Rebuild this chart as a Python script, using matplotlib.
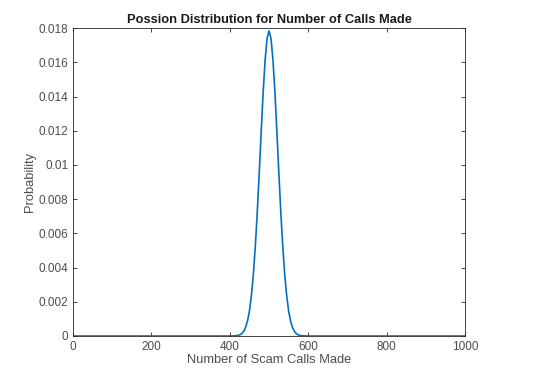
import matplotlib

matplotlib.use("Agg")
import matplotlib.pyplot as plt  # noqa: E402

# values (number of calls -> probability)
calls = [0, 400, 410, 420, 425, 430, 435, 440, 445, 450, 455, 460, 465, 470, 475,
         480, 485, 490, 495, 500, 505, 510, 515, 520, 525, 530, 535, 540, 545,
         550, 555, 560, 565, 570, 575, 580, 590, 600, 1000]
prob = [0.0, 0.0, 0.000005, 0.00003, 0.00006, 0.00013, 0.00026, 0.00049, 0.00087,
        0.00146, 0.00236, 0.00360, 0.00524, 0.00725, 0.00955, 0.01196, 0.01425,
        0.01614, 0.01740, 0.01784, 0.01740, 0.01614, 0.01425, 0.01196, 0.00955,
        0.00725, 0.00524, 0.00360, 0.00236, 0.00146, 0.00087, 0.00049, 0.00026,
        0.00013, 0.00006, 0.00003, 0.000005, 0.0, 0.0]
x_ticks = [0, 200, 400, 600, 800, 1000]
y_ticks = [0, 0.002, 0.004, 0.006, 0.008, 0.01, 0.012, 0.014, 0.016, 0.018]

plt.rcParams["font.family"] = ["Liberation Sans", "DejaVu Sans"]
plt.rcParams["font.size"] = 8.5

fig = plt.figure(figsize=(5.37, 3.75), dpi=100)
ax = fig.add_axes([0.136, 0.104, 0.730, 0.821])
ax.plot(calls, prob, color="#0072BD", linewidth=1.2)
ax.set_xlim(0, 1000)
ax.set_ylim(0, 0.018)
ax.set_xticks(x_ticks)
ax.set_yticks(y_ticks)
ax.set_yticklabels(["0", "0.002", "0.004", "0.006", "0.008", "0.01",
                    "0.012", "0.014", "0.016", "0.018"])
ax.tick_params(direction="in", top=True, right=True, length=3, width=0.6,
               colors="#262626", labelcolor="#4d4d4d", labelsize=8.5)
for s in ax.spines.values():
    s.set_color("#262626")
    s.set_linewidth(0.6)
ax.set_xlabel("Number of Scam Calls Made", color="#4d4d4d", fontsize=9.3, labelpad=1)
ax.set_ylabel("Probability", color="#4d4d4d", fontsize=9.3, labelpad=2)
ax.set_title("Possion Distribution for Number of Calls Made", fontsize=9.3,
             fontweight="bold", color="#1a1a1a", pad=4)

fig.savefig("out.png", dpi=100)
